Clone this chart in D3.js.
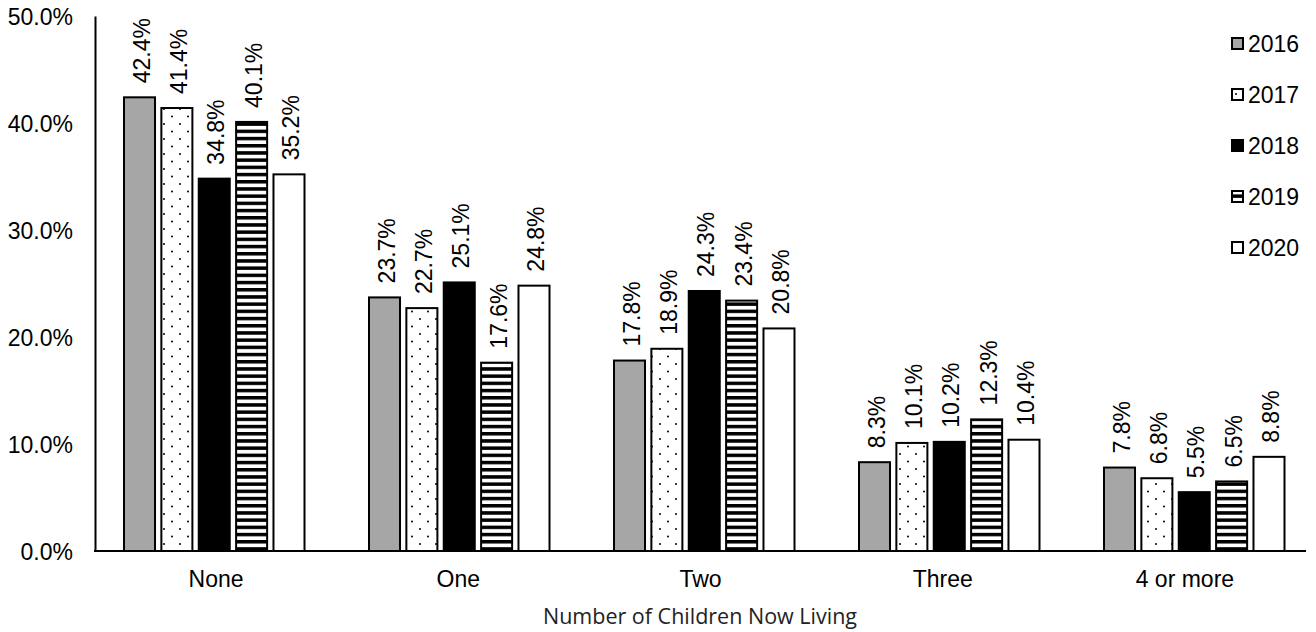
<!DOCTYPE html>
<html><head><meta charset="utf-8">
<script src="https://cdn.jsdelivr.net/npm/d3@7"></script>
<style>body{margin:0;background:#fff}</style>
</head><body>
<svg id="c" width="1316" height="632"></svg>
<script>
const categories = ["None","One","Two","Three","4 or more"];
const years = ["2016","2017","2018","2019","2020"];
const v2016 = [42.4,23.7,17.8,8.3,7.8];
const v2017 = [41.4,22.7,18.9,10.1,6.8];
const v2018 = [34.8,25.1,24.3,10.2,5.5];
const v2019 = [40.1,17.6,23.4,12.3,6.5];
const v2020 = [35.2,24.8,20.8,10.4,8.8];
const yTicks = [0,10,20,30,40,50];
const xTitle = "Number of Children Now Living";
const seriesVals = [v2016,v2017,v2018,v2019,v2020];

const svg = d3.select("#c");
const defs = svg.append("defs");
const dots = defs.append("pattern").attr("id","dots").attr("patternUnits","userSpaceOnUse").attr("width",16).attr("height",15);
dots.append("rect").attr("width",16).attr("height",15).attr("fill","#fff");
dots.append("circle").attr("cx",4).attr("cy",4).attr("r",1).attr("fill","#000");
dots.append("circle").attr("cx",12).attr("cy",11.5).attr("r",1).attr("fill","#000");
const stripes = defs.append("pattern").attr("id","stripes").attr("patternUnits","userSpaceOnUse").attr("width",7.2).attr("height",7.2);
stripes.append("rect").attr("width",7.2).attr("height",7.2).attr("fill","#fff");
stripes.append("rect").attr("y",0).attr("width",7.2).attr("height",3.5).attr("fill","#000");
const fills = ["#a6a6a6","url(#dots)","#000","url(#stripes)","#fff"];

const x0 = d3.scaleBand().domain(categories).range([92,1317]);
const xLab = d3.scaleBand().domain(categories).range([95,1306]);
const x1 = d3.scaleBand().domain(years).range([32,212.5]).paddingInner(0.17);
const y = d3.scaleLinear().domain([0,50]).range([551,16]);

const font = "'Liberation Sans', Arial, sans-serif";
const fs = 23;

// bars
categories.forEach((c,ci)=>{
  years.forEach((yr,si)=>{
    const v = seriesVals[si][ci];
    const bx = x0(c)+x1(yr);
    svg.append("rect").attr("x",bx).attr("y",y(v)).attr("width",x1.bandwidth()).attr("height",y(0)-y(v))
      .attr("fill",fills[si]).attr("stroke","#000").attr("stroke-width",2);
    const cx = bx + x1.bandwidth()/2 + 10;
    svg.append("text").attr("transform",`translate(${cx},${y(v)-14}) rotate(-90)`)
      .attr("font-family",font).attr("font-size",fs).attr("fill","#000").text(v.toFixed(1)+"%");
  });
});

// axes
const yAxis = d3.axisLeft(y).tickValues(yTicks).tickSize(0).tickPadding(22).tickFormat(d=>d.toFixed(1)+"%");
const gy = svg.append("g").attr("transform","translate(95,0)").call(yAxis);
gy.select(".domain").attr("stroke","#000").attr("stroke-width",2);
gy.selectAll("text").attr("font-family",font).attr("font-size",fs).attr("fill","#000").attr("dy","0.35em");

const xAxis = d3.axisBottom(xLab).tickSize(0).tickPadding(20);
const gx = svg.append("g").attr("transform","translate(0,551)").call(xAxis);
gx.select(".domain").attr("d","M94,0H1306").attr("stroke","#000").attr("stroke-width",2);
gx.selectAll("text").attr("font-family",font).attr("font-size",fs).attr("fill","#000");

svg.append("text").attr("x",700).attr("y",624).attr("text-anchor","middle")
  .attr("font-family","'Open Sans', sans-serif").attr("font-size",21.5).attr("fill","#222").text(xTitle);

// legend
years.forEach((yr,i)=>{
  const ly = 44 + i*51;
  svg.append("rect").attr("x",1232).attr("y",ly-6).attr("width",11).attr("height",11)
    .attr("fill",fills[i]).attr("stroke","#000").attr("stroke-width",2);
  svg.append("text").attr("x",1248).attr("y",ly).attr("dy","0.35em").attr("font-family",font).attr("font-size",fs).attr("fill","#000").text(yr);
});
</script>
</body></html>
